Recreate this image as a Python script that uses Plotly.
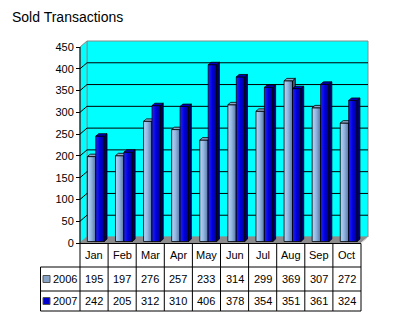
import plotly.graph_objects as go

# ---- data -------------------------------------------------------------
months = ["Jan", "Feb", "Mar", "Apr", "May", "Jun", "Jul", "Aug", "Sep", "Oct"]
series_names = ["2006", "2007"]
sold_2006 = [195, 197, 276, 257, 233, 314, 299, 369, 307, 272]
sold_2007 = [242, 205, 312, 310, 406, 378, 354, 351, 361, 324]
y_tick_values = [0, 50, 100, 150, 200, 250, 300, 350, 400, 450]
y_tick_labels = ["0", "50", "100", "150", "200", "250", "300", "350", "400", "450"]

# ---- styling ----------------------------------------------------------
FONT = "Arial, Liberation Sans, sans-serif"
front_scales = [
    [[0, "#b4d6fa"], [0.45, "#93b6e2"], [1, "#56749e"]],
    [[0, "#2424ff"], [0.5, "#0000dc"], [1, "#00008a"]],
]
side_colors = ["#43577a", "#000068"]
top_colors = ["#8ca4c6", "#0000c0"]
swatch_colors = ["#87a3c6", "#0000cc"]

# ---- geometry (pixels of the 400x331 page) ---------------------------
W, H = 400, 331
X_FRONT = 80.0          # left edge of the front plane
CAT_W = 28.1            # width of one month
Y_ZERO = 243.0          # value 0 on the front plane
Y_TOP = 47.0            # value 450 on the front plane
Y_MAX = 450.0
PX_PER_UNIT = (Y_ZERO - Y_TOP) / Y_MAX
DEPTH_X_PX, DEPTH_Y_PX = 7.0, 6.0
DX = DEPTH_X_PX / CAT_W           # depth offset in category units
DY = DEPTH_Y_PX / PX_PER_UNIT     # depth offset in value units
XD0, XD1 = 78.0, 370.0            # subplot pixel extent
YD0, YD1 = 40.0, 245.0

x_range = [-0.5 - (X_FRONT - XD0) / CAT_W, -0.5 + (XD1 - X_FRONT) / CAT_W]
y_range = [-(YD1 - Y_ZERO) / PX_PER_UNIT, (Y_ZERO - YD0) / PX_PER_UNIT]

BAR_W = 0.3
F0, F1 = 0.25, 0.65     # front / back of the bars as a share of the depth
n = len(months)


def px(x):
    return x / W


def py(y):
    return 1 - y / H


fig = go.Figure()

# ---- 3-D bars -----------------------------------------------------------
ddx, ddy = (F1 - F0) * DX, (F1 - F0) * DY
for s, values in enumerate([sold_2006, sold_2007]):
    side_x, side_y, top_x, top_y = [], [], [], []
    for i, v in enumerate(values):
        x0 = i + (s - 1) * BAR_W + F0 * DX
        x1 = x0 + BAR_W
        y0 = F0 * DY
        yt = v + F0 * DY
        fig.add_trace(go.Scatter(
            x=[x0, x1, x1, x0, x0], y=[y0, y0, yt, yt, y0],
            mode="lines", fill="toself",
            fillgradient=dict(type="horizontal", colorscale=front_scales[s]),
            line=dict(color="black", width=0.8),
            name=series_names[s], text=f"{months[i]} {series_names[s]}: {v}",
            hoverinfo="text", showlegend=False,
        ))
        side_x += [x1, x1 + ddx, x1 + ddx, x1, x1, None]
        side_y += [y0, y0 + ddy, yt + ddy, yt, y0, None]
        top_x += [x0, x1, x1 + ddx, x0 + ddx, x0, None]
        top_y += [yt, yt, yt + ddy, yt + ddy, yt, None]
    fig.add_trace(go.Scatter(
        x=side_x, y=side_y, mode="lines", fill="toself",
        fillcolor=side_colors[s], line=dict(color="black", width=0.8),
        hoverinfo="skip", showlegend=False,
    ))
    fig.add_trace(go.Scatter(
        x=top_x, y=top_y, mode="lines", fill="toself",
        fillcolor=top_colors[s], line=dict(color="black", width=0.8),
        hoverinfo="skip", showlegend=False,
    ))

# ---- walls, floor and gridlines -----------------------------------------
shapes = []
xl, xr = -0.5, n - 0.5
# back wall
shapes.append(dict(type="rect", xref="x", yref="y", layer="below",
                   x0=xl + DX, x1=xr + DX, y0=DY, y1=Y_MAX + DY,
                   fillcolor="#00ffff", line=dict(color="#8a8a8a", width=1)))
# side wall
shapes.append(dict(type="path", xref="x", yref="y", layer="below",
                   path=f"M{xl},0 L{xl},{Y_MAX} L{xl + DX},{Y_MAX + DY} L{xl + DX},{DY} Z",
                   fillcolor="#00ffff", line=dict(color="#8a8a8a", width=1)))
# floor
shapes.append(dict(type="path", xref="x", yref="y", layer="below",
                   path=f"M{xl},0 L{xr},0 L{xr + DX},{DY} L{xl + DX},{DY} Z",
                   fillcolor="#8c8c8c", line=dict(color="#8c8c8c", width=0.5)))
shapes.append(dict(type="line", xref="x", yref="y", layer="below",
                   x0=xr, y0=0, x1=xr + DX, y1=DY,
                   line=dict(color="#e6e6e6", width=1)))
for t in y_tick_values[1:-1]:
    shapes.append(dict(type="line", xref="x", yref="y", layer="below",
                       x0=xl + DX, x1=xr + DX, y0=t + DY, y1=t + DY,
                       line=dict(color="black", width=1)))
    shapes.append(dict(type="line", xref="x", yref="y", layer="below",
                       x0=xl, x1=xl + DX, y0=t, y1=t + DY,
                       line=dict(color="black", width=1)))
# value axis line
shapes.append(dict(type="line", xref="x", yref="y",
                   x0=xl, x1=xl, y0=0, y1=Y_MAX,
                   line=dict(color="black", width=1)))

# ---- data table -----------------------------------------------------------
T_TOP, T_R1, T_R2, T_BOT = 243.5, 267.0, 291.0, 311.0
T_LEFT = 40.5
col_edges = [X_FRONT + k * CAT_W for k in range(n + 1)]
T_RIGHT = col_edges[-1]
line_style = dict(color="black", width=1)


def seg(x0, y0, x1, y1):
    shapes.append(dict(type="line", xref="paper", yref="paper",
                       x0=px(x0), x1=px(x1), y0=py(y0), y1=py(y1), line=line_style))


seg(X_FRONT, T_TOP, T_RIGHT, T_TOP)
for yy in (T_R1, T_R2, T_BOT):
    seg(T_LEFT, yy, T_RIGHT, yy)
seg(T_LEFT, T_R1, T_LEFT, T_BOT)
for xe in col_edges:
    seg(xe, T_TOP, xe, T_BOT)

annotations = []
row_centers = [(T_R1 + T_R2) / 2, (T_R2 + T_BOT) / 2]
for i, m in enumerate(months):
    annotations.append(dict(x=i, xref="x", y=py((T_TOP + T_R1) / 2), yref="paper",
                            text=m, showarrow=False, xanchor="center", yanchor="middle",
                            font=dict(family=FONT, size=11, color="black")))
for s, values in enumerate([sold_2006, sold_2007]):
    yc = row_centers[s]
    for i, v in enumerate(values):
        annotations.append(dict(x=i, xref="x", y=py(yc), yref="paper",
                                text=str(v), showarrow=False, xanchor="center",
                                yanchor="middle",
                                font=dict(family=FONT, size=11, color="black")))
    # legend key
    shapes.append(dict(type="rect", xref="paper", yref="paper",
                       x0=px(43), x1=px(50), y0=py(yc - 3.5), y1=py(yc + 3.5),
                       fillcolor=swatch_colors[s], line=dict(color="#555555", width=1)))
    annotations.append(dict(x=px(50.5), xref="paper", y=py(yc), yref="paper",
                            text=series_names[s], showarrow=False, xanchor="left",
                            yanchor="middle",
                            font=dict(family=FONT, size=11, color="black")))

# title
annotations.append(dict(x=px(10), xref="paper", y=py(17), yref="paper",
                        text="Sold Transactions", showarrow=False,
                        xanchor="left", yanchor="middle",
                        font=dict(family=FONT, size=14, color="black")))

fig.update_layout(
    width=W, height=H,
    margin=dict(l=0, r=0, t=0, b=0, autoexpand=False),
    paper_bgcolor="white", plot_bgcolor="white",
    showlegend=False,
    xaxis=dict(domain=[px(XD0), px(XD1)], range=x_range, visible=False, fixedrange=True),
    yaxis=dict(domain=[py(YD1), py(YD0)], range=y_range,
               anchor="free", position=px(X_FRONT),
               tickvals=y_tick_values, ticktext=y_tick_labels,
               ticks="outside", ticklen=4, tickcolor="black", tickwidth=1,
               tickfont=dict(family=FONT, size=11, color="black"),
               showgrid=False, zeroline=False, showline=False, fixedrange=True),
    shapes=shapes,
    annotations=annotations,
)

fig.write_html("out.html", config={"displayModeBar": False})
